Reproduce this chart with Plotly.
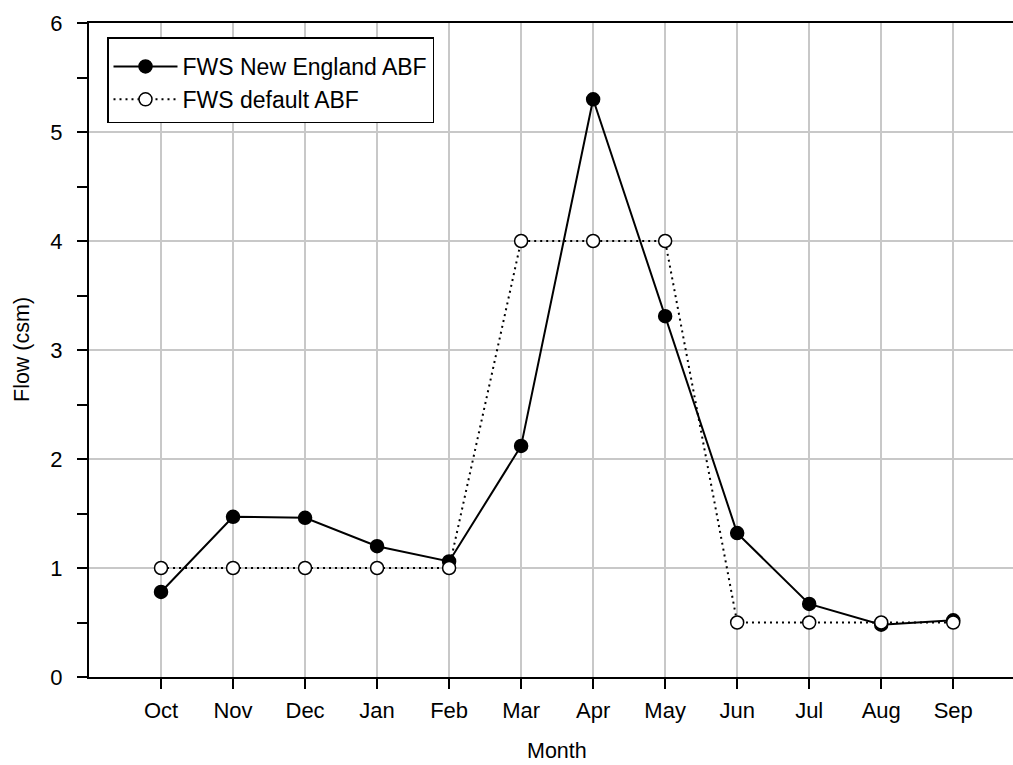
import plotly.graph_objects as go

# Monthly flow values (csm), water year Oct-Sep
months = ["Oct", "Nov", "Dec", "Jan", "Feb", "Mar", "Apr", "May", "Jun", "Jul", "Aug", "Sep"]
new_england_abf = [0.78, 1.47, 1.46, 1.20, 1.06, 2.12, 5.30, 3.31, 1.32, 0.67, 0.48, 0.52]
default_abf = [1.0, 1.0, 1.0, 1.0, 1.0, 4.0, 4.0, 4.0, 0.5, 0.5, 0.5, 0.5]
y_ticks = [0, 1, 2, 3, 4, 5, 6]

x_pos = list(range(1, len(months) + 1))
FONT = "Liberation Sans, Arial, sans-serif"

W, H = 1013, 765
ML, MT, MB = 89, 23, 88

fig = go.Figure()
fig.add_trace(go.Scatter(
    x=x_pos, y=new_england_abf, name="FWS New England ABF",
    mode="lines+markers", legendgroup="ne",
    line=dict(color="black", width=2),
    marker=dict(symbol="circle", size=13, color="black",
                line=dict(color="black", width=1.5)),
))
fig.add_trace(go.Scatter(
    x=x_pos, y=default_abf, name="FWS default ABF",
    mode="lines+markers", legendgroup="def",
    line=dict(color="black", width=2, dash="2px,4px"),
    marker=dict(symbol="circle", size=13, color="white",
                line=dict(color="black", width=1.5)),
))

plot_h = H - MT - MB
plot_w = W - ML

fig.update_layout(
    width=W, height=H,
    margin=dict(l=ML, r=0, t=MT, b=MB, pad=0),
    paper_bgcolor="white", plot_bgcolor="white",
    font=dict(family=FONT, color="black", size=22),
    showlegend=True,
    legend=dict(
        x=(107 - ML) / plot_w, y=(H - MB - 37) / plot_h,
        xanchor="left", yanchor="top",
        bgcolor="white", bordercolor="black", borderwidth=1.5,
        font=dict(family=FONT, size=23, color="black"),
        title=dict(text=" ", font=dict(size=5)),
        itemwidth=64, tracegroupgap=0,
    ),
    xaxis=dict(
        range=[0, 12.83],
        tickmode="array", tickvals=x_pos, ticktext=months,
        ticks="outside", ticklen=10, tickwidth=2, tickcolor="black",
        showline=True, linecolor="black", linewidth=2, mirror=True,
        showgrid=True, gridcolor="#c8c8c8", gridwidth=2,
        zeroline=False, ticklabelstandoff=3,
        tickfont=dict(family=FONT, size=22, color="black"),
    ),
    yaxis=dict(
        range=[0, 6],
        tickmode="array", tickvals=y_ticks,
        ticks="outside", ticklen=10, tickwidth=2, tickcolor="black",
        minor=dict(dtick=0.5, ticks="outside", ticklen=10, tickwidth=2,
                   tickcolor="black", showgrid=False),
        showline=True, linecolor="black", linewidth=2, mirror=False,
        showgrid=True, gridcolor="#c8c8c8", gridwidth=2,
        zeroline=False, ticklabelstandoff=10,
        tickfont=dict(family=FONT, size=22, color="black"),
    ),
    annotations=[
        dict(text="Month", xref="paper", yref="paper",
             x=(557 - ML) / plot_w, y=-(751 - (H - MB)) / plot_h,
             xanchor="center", yanchor="middle", showarrow=False,
             font=dict(family=FONT, size=21.5, color="black")),
        dict(text="Flow (csm)", xref="paper", yref="paper",
             x=-(ML - 22) / plot_w, y=0.5, textangle=-90,
             xanchor="center", yanchor="middle", showarrow=False,
             font=dict(family=FONT, size=21.5, color="black")),
    ],
)

fig.write_html("out.html")
